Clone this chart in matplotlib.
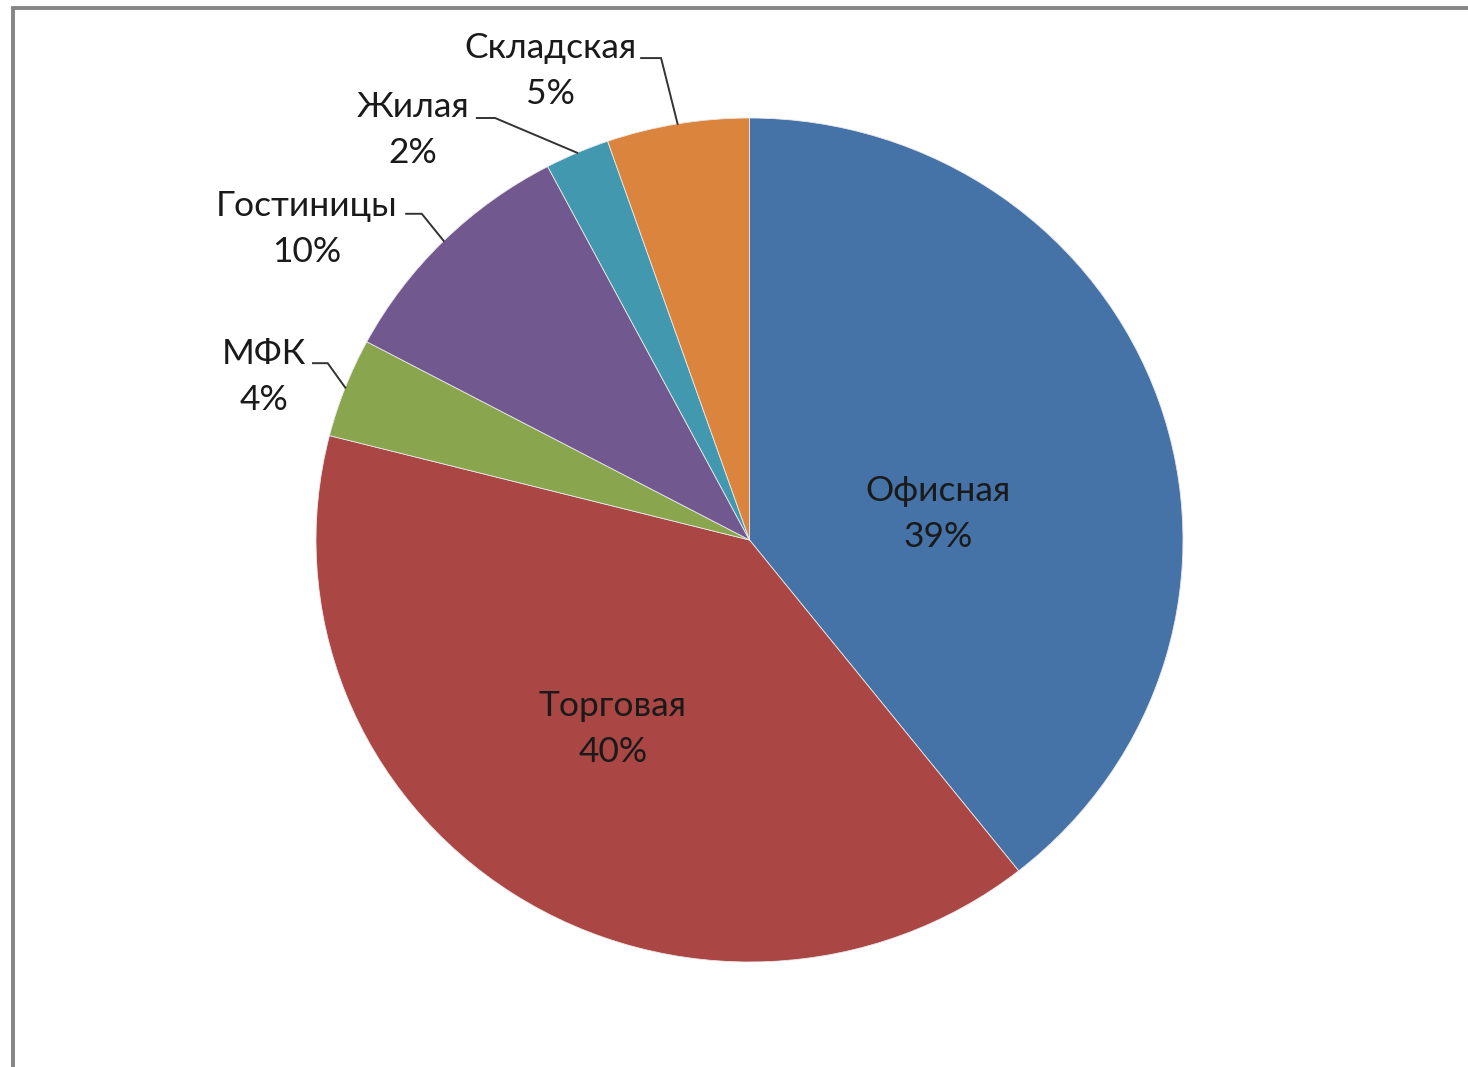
import numpy as np
import matplotlib
matplotlib.use("Agg")
import matplotlib.pyplot as plt
from matplotlib.patches import Rectangle

# ---- data ----
categories = ["Офисная", "Торговая", "МФК", "Гостиницы", "Жилая", "Складская"]
shares = [39.3, 39.6, 3.8, 9.5, 2.4, 5.3]
colors = ["#4572A7", "#AA4643", "#89A54E", "#71588F", "#4198AF", "#DB843D"]

# label text centres (data coords, radius = 1) and leader elbows (None = inside)
label_pos = [(0.435, 0.062), (-0.315, -0.448), (-1.120, 0.386),
             (-1.021, 0.737), (-0.776, 0.972), (-0.460, 1.111)]
leader_elbow = [None, None, (-1.007, -0.973, 0.419), (-0.792, -0.756, 0.773),
                (-0.629, -0.587, 1.000), (-0.250, -0.204, 1.142)]

W, H = 1468, 1067
fig = plt.figure(figsize=(W / 100, H / 100), dpi=100)
fig.patch.set_facecolor("white")

# chart frame (partially visible)
fig.add_artist(Rectangle((13 / W, -0.05), 1.2, (H - 8) / H + 0.05,
                         transform=fig.transFigure, fill=False,
                         edgecolor="#858585", linewidth=2.8))

cx, cy, rx, ry = 749.5, 540, 433.5, 422
ax = fig.add_axes([(cx - rx) / W, (H - cy - ry) / H, 2 * rx / W, 2 * ry / H])
wedges, _ = ax.pie(shares, colors=colors, startangle=90, counterclock=False,
                   wedgeprops=dict(edgecolor="#e8e8e8", linewidth=0.6))
ax.set_aspect("auto")
ax.set_xlim(-1, 1)
ax.set_ylim(-1, 1)
ax.axis("off")

total = sum(shares)
font = ["Lato", "DejaVu Sans"]
for i, (cat, v) in enumerate(zip(categories, shares)):
    pct = int(round(v / total * 100))
    x, y = label_pos[i]
    ax.text(x, y, f"{cat}\n{pct}%", ha="center", va="center", fontsize=25.5,
            family=font, color="#1a1a1a", linespacing=1.55, clip_on=False)
    if leader_elbow[i] is not None:
        w = wedges[i]
        mid = np.deg2rad((w.theta1 + w.theta2) / 2)
        ex, ey = np.cos(mid), np.sin(mid)
        x0, x1, yl = leader_elbow[i]
        ax.plot([x0, x1, ex], [yl, yl, ey], color="#333333", lw=1.4,
                clip_on=False, solid_joinstyle="miter")

fig.savefig("out.png", dpi=100, facecolor="white")
